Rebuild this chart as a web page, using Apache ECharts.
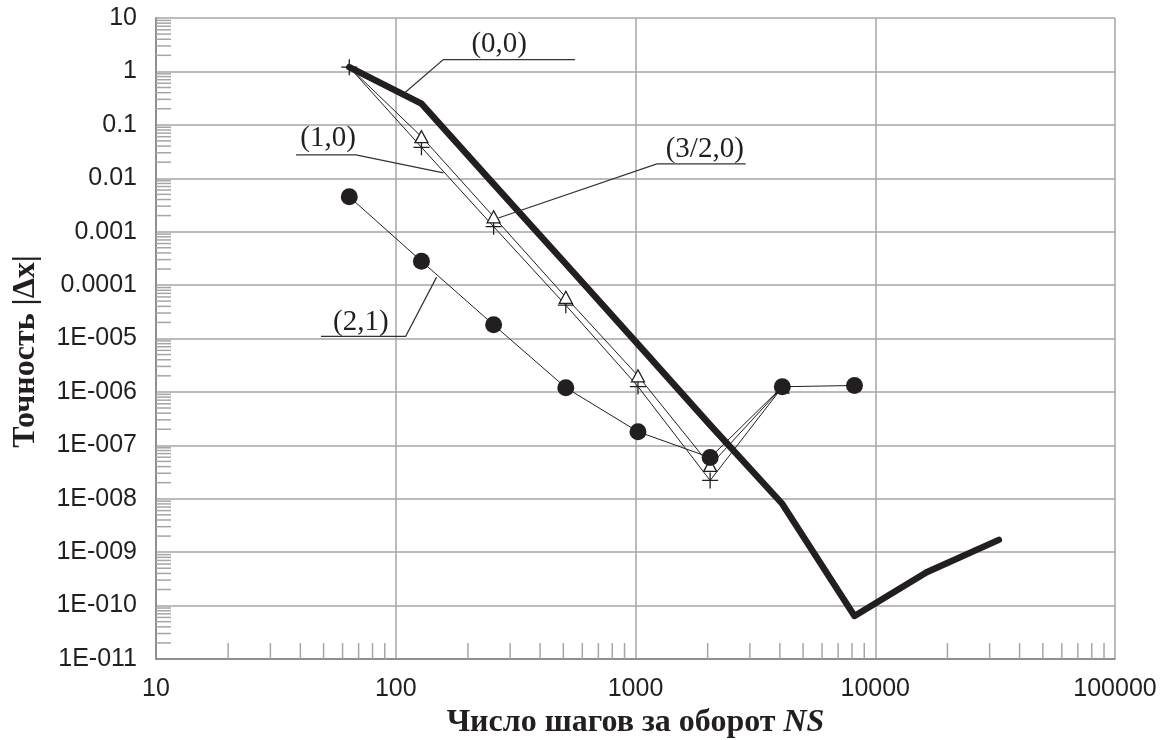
<!DOCTYPE html>
<html>
<head>
<meta charset="utf-8">
<script src="https://cdn.jsdelivr.net/npm/echarts@6/dist/echarts.min.js"></script>
<style>html,body{margin:0;padding:0;background:#fff;}#c{width:1172px;height:740px;}</style>
</head>
<body>
<div id="c"></div>
<script>
// ---- data ----
var steps = [64, 128, 256, 512, 1024, 2048, 4096, 8192, 16384, 32768];
var s00 = [1.2, 0.25, 0.0078, 2.5e-4, 7.8e-6, 2.4e-7, 8e-9, 6.4e-11, 4.2e-10, 1.7e-9];
var s10 = [1.2, 0.038, 0.00124, 4.2e-5, 1.26e-6, 2.2e-8, 1.23e-6];
var s32 = [1.2, 0.06, 0.0019, 5.9e-5, 2.0e-6, 4.2e-8, 1.23e-6];
var s21 = [0.0045, 2.8e-4, 1.8e-5, 1.2e-6, 1.8e-7, 5.9e-8, 1.25e-6, 1.32e-6];
var xTickLabels = ['10', '100', '1000', '10000', '100000'];
var yTickLabels = ['1E-011', '1E-010', '1E-009', '1E-008', '1E-007', '1E-006', '1E-005', '0.0001', '0.001', '0.01', '0.1', '1', '10'];
var annoText = [
  {t: '(0,0)', x: 270, y: 3.17},
  {t: '(1,0)', x: 52.2, y: 0.0546},
  {t: '(3/2,0)', x: 1945, y: 0.034},
  {t: '(2,1)', x: 71.5, y: 2.01e-5}
];
var leaders = [
  [[560, 1.66], [158, 1.66], [109, 0.398]],
  [[38.4, 0.0274], [68.2, 0.0274], [158, 0.0126]],
  [[2880, 0.01855], [1228, 0.01855], [268, 0.0018]],
  [[48.8, 1.1e-5], [110, 1.1e-5], [148, 1.41e-4]]
];
// minor tick positions (axis ticks)
var xMinor = [], yMinor = [];
for (var e = 1; e < 5; e++) for (var m = 2; m < 10; m++) xMinor.push([m * Math.pow(10, e), 1e-11]);
for (var e2 = -11; e2 < 1; e2++) for (var m2 = 2; m2 < 10; m2++) yMinor.push([10, m2 * Math.pow(10, e2)]);

function zip(xs, ys) { return ys.map(function (v, i) { return [xs[i], v]; }); }

var ink = '#231f20';
var grayLine = '#a6a6a6';
var chart = echarts.init(document.getElementById('c'));
var plusPath = 'path://M5,0L5,10M0,5L10,5';

var option = {
  backgroundColor: '#fff',
  animation: false,
  grid: {left: 156, right: 57, top: 18, bottom: 81, show: false, containLabel: false, outerBoundsMode: 'none'},
  xAxis: {
    type: 'log', logBase: 10, min: 10, max: 100000, interval: 1, splitNumber: 4,
    axisLine: {show: true, lineStyle: {color: '#808080', width: 1.5}},
    axisTick: {show: false},
    splitLine: {show: true, lineStyle: {color: grayLine, width: 1.5}},
    axisLabel: {
      fontFamily: 'Liberation Sans', fontSize: 25, color: ink, margin: 18,
      formatter: function (v) { return xTickLabels[Math.round(Math.log10(v)) - 1]; }
    },
    name: '{b|Число шагов за оборот }{bi|NS}',
    nameLocation: 'middle', nameGap: 42,
    nameTextStyle: {
      rich: {
        b: {fontFamily: 'Liberation Serif', fontWeight: 'bold', fontSize: 32, color: ink},
        bi: {fontFamily: 'Liberation Serif', fontWeight: 'bold', fontStyle: 'italic', fontSize: 32, color: ink}
      }
    }
  },
  yAxis: {
    type: 'log', logBase: 10, min: 1e-11, max: 10, interval: 1, splitNumber: 12,
    axisLine: {show: true, lineStyle: {color: '#808080', width: 1.5}},
    axisTick: {show: false},
    splitLine: {show: true, lineStyle: {color: grayLine, width: 1.5}},
    axisLabel: {
      fontFamily: 'Liberation Sans', fontSize: 25, color: ink, margin: 19,
      formatter: function (v) { return yTickLabels[Math.round(Math.log10(v)) + 11]; }
    },
    name: 'Точность |Δx|',
    nameLocation: 'middle', nameGap: 114,
    nameTextStyle: {fontFamily: 'Liberation Serif', fontWeight: 'bold', fontSize: 32, color: ink,
      padding: [0, 26, 0, 0]}
  },
  series: [
    {
      type: 'custom', name: 'xminor', silent: true, data: xMinor,
      renderItem: function (params, api) {
        var p = api.coord([api.value(0), api.value(1)]);
        return {type: 'line', shape: {x1: p[0], y1: p[1], x2: p[0], y2: p[1] - 16},
          style: {stroke: grayLine, lineWidth: 1.5}};
      }
    },
    {
      type: 'custom', name: 'yminor', silent: true, data: yMinor,
      renderItem: function (params, api) {
        var p = api.coord([api.value(0), api.value(1)]);
        return {type: 'line', shape: {x1: p[0], y1: p[1], x2: p[0] + 15, y2: p[1]},
          style: {stroke: grayLine, lineWidth: 1.5}};
      }
    },
    {
      type: 'line', name: '(1,0)', data: zip(steps, s10),
      symbol: plusPath, symbolSize: 16, showAllSymbol: true,
      lineStyle: {color: ink, width: 1},
      itemStyle: {color: 'none', borderColor: ink, borderWidth: 1.3}
    },
    {
      type: 'line', name: '(3/2,0)',
      data: zip(steps, s32).map(function (d, i) { return i === 0 ? {value: d, symbol: 'none'} : d; }),
      symbol: 'triangle', symbolSize: [13, 12], showAllSymbol: true,
      lineStyle: {color: ink, width: 1},
      itemStyle: {color: '#fff', borderColor: ink, borderWidth: 1.3}
    },
    {
      type: 'line', name: '(0,0)', data: zip(steps, s00),
      symbol: 'none', lineStyle: {color: ink, width: 6.5, join: 'round', cap: 'round'}
    },
    {
      type: 'line', name: '(2,1)', data: zip(steps, s21),
      symbol: 'circle', symbolSize: 17, showAllSymbol: true,
      lineStyle: {color: ink, width: 1},
      itemStyle: {color: ink, borderWidth: 0}
    }
  ]
};
chart.setOption(option);

function px(d) { return chart.convertToPixel({gridIndex: 0}, d); }
var g = [];
leaders.forEach(function (L) {
  g.push({type: 'polyline', silent: true, z: 100,
    shape: {points: L.map(px)}, style: {stroke: '#333', lineWidth: 1.2, fill: null}});
});
annoText.forEach(function (a) {
  var p = px([a.x, a.y]);
  g.push({type: 'text', silent: true, z: 100, x: p[0], y: p[1],
    style: {text: a.t, fontFamily: 'Liberation Serif', fontSize: 29, fill: ink,
      align: 'center', verticalAlign: 'middle'}});
});
chart.setOption({graphic: g});
</script>
</body>
</html>
